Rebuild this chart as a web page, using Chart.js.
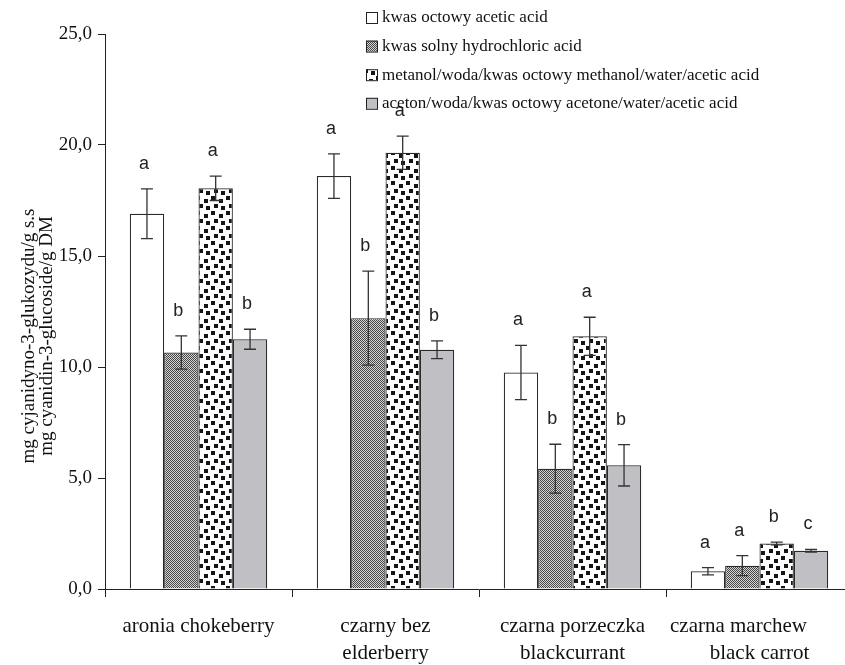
<!DOCTYPE html>
<html>
<head>
<meta charset="utf-8">
<script src="https://cdn.jsdelivr.net/npm/chart.js@4.4.0/dist/chart.umd.min.js"></script>
<style>
html, body { margin: 0; padding: 0; background: #fff; overflow: hidden; }
#chart { display: block; }
</style>
</head>
<body>
<canvas id="chart" width="860" height="665"></canvas>
<script>
// kategorie (owoce / warzywa)
const categories = [
    ['aronia chokeberry'],
    ['czarny bez', 'elderberry'],
    ['czarna porzeczka', 'blackcurrant'],
    ['czarna marchew        ', 'black carrot']
];

const seriesNames = [
    'kwas octowy acetic acid',
    'kwas solny hydrochloric acid',
    'metanol/woda/kwas octowy methanol/water/acetic acid',
    'aceton/woda/kwas octowy acetone/water/acetic acid'
];

// wartosci mg/g
const aceticAcid    = [16.9, 18.6, 9.75, 0.8];
const hydrochloric  = [10.65, 12.2, 5.42, 1.05];
const methanolMix   = [18.05, 19.65, 11.38, 2.05];
const acetoneMix    = [11.25, 10.78, 5.57, 1.72];

// odchylenia
const aceticErr     = [1.12, 1.0, 1.22, 0.16];
const hydroErr      = [0.75, 2.12, 1.1, 0.45];
const methanolErr   = [0.55, 0.75, 0.86, 0.06];
const acetoneErr    = [0.45, 0.4, 0.93, 0.06];

// grupy jednorodne
const aceticLetters   = ['a', 'a', 'a', 'a'];
const hydroLetters    = ['b', 'b', 'b', 'a'];
const methanolLetters = ['a', 'a', 'a', 'b'];
const acetoneLetters  = ['b', 'b', 'b', 'c'];

const yTicks = [0, 5, 10, 15, 20, 25];

const yTitle = ['mg cyjanidyno-3-glukozydu/g s.s', 'mg cyanidin-3-glucoside/g DM'];

// wzory wypelnienia
function checkerPattern() {
    const c = document.createElement('canvas');
    c.width = 2; c.height = 2;
    const g = c.getContext('2d');
    g.fillStyle = '#d4d4d4';
    g.fillRect(0, 0, 2, 2);
    g.fillStyle = '#474747';
    g.fillRect(0, 0, 1, 1);
    g.fillRect(1, 1, 1, 1);
    return g.createPattern(c, 'repeat');
}

function dotPattern() {
    const c = document.createElement('canvas');
    c.width = 15; c.height = 15;
    const g = c.getContext('2d');
    g.fillStyle = '#ffffff';
    g.fillRect(0, 0, 15, 15);
    g.fillStyle = '#151515';
    g.fillRect(1, 1, 4, 4);
    g.fillRect(9, 4, 4, 4);
    g.fillRect(4, 9, 4, 4);
    g.fillRect(11, 11, 4, 4);
    return g.createPattern(c, 'repeat');
}

const fills = ['#ffffff', checkerPattern(), dotPattern(), '#c0c0c4'];

const serif = '"Liberation Serif", "Times New Roman", serif';

const errorBars = {
    id: 'errorBars',
    afterDatasetsDraw(chart) {
        const ctx = chart.ctx;
        const y = chart.scales.y;
        chart.data.datasets.forEach((ds, i) => {
            const meta = chart.getDatasetMeta(i);
            meta.data.forEach((bar, j) => {
                const v = ds.data[j];
                const e = ds.errors[j];
                const top = y.getPixelForValue(v + e);
                const bot = y.getPixelForValue(v - e);
                ctx.save();
                ctx.strokeStyle = '#333';
                ctx.lineWidth = 1.3;
                ctx.beginPath();
                ctx.moveTo(bar.x, top); ctx.lineTo(bar.x, bot);
                ctx.moveTo(bar.x - 6, top); ctx.lineTo(bar.x + 6, top);
                ctx.moveTo(bar.x - 6, bot); ctx.lineTo(bar.x + 6, bot);
                ctx.stroke();

                ctx.fillStyle = '#222';
                ctx.font = '18px "Liberation Sans", Arial, sans-serif';
                ctx.textAlign = 'center';
                ctx.textBaseline = 'alphabetic';
                ctx.fillText(ds.letters[j], bar.x - 3, top - 20);
                ctx.restore();
            });
        });
    }
};

const extras = {
    id: 'extras',
    afterDraw(chart) {
        const ctx = chart.ctx;
        ctx.save();

        // legenda
        ctx.font = '17px ' + serif;
        ctx.textBaseline = 'middle';
        ctx.textAlign = 'left';
        chart.data.datasets.forEach((ds, i) => {
            const cy = 18 + i * 28.6;
            ctx.fillStyle = ds.backgroundColor;
            ctx.fillRect(366, cy - 6, 11, 11);
            ctx.strokeStyle = '#222';
            ctx.lineWidth = 1;
            ctx.strokeRect(366.5, cy - 5.5, 11, 11);
            ctx.fillStyle = '#111';
            ctx.fillText(ds.label, 382, cy);
        });

        // tytul osi y
        ctx.font = '19px ' + serif;
        ctx.textAlign = 'center';
        ctx.fillStyle = '#111';
        ctx.translate(0, 336);
        ctx.rotate(-Math.PI / 2);
        ctx.fillText(yTitle[0], 0, 29);
        ctx.fillText(yTitle[1], 0, 47);
        ctx.restore();
    }
};

const seriesValues = [aceticAcid, hydrochloric, methanolMix, acetoneMix];
const seriesErrors = [aceticErr, hydroErr, methanolErr, acetoneErr];
const seriesLetters = [aceticLetters, hydroLetters, methanolLetters, acetoneLetters];

new Chart(document.getElementById('chart'), {
    type: 'bar',
    data: {
        labels: categories,
        datasets: seriesNames.map((name, i) => ({
            label: name,
            data: seriesValues[i],
            errors: seriesErrors[i],
            letters: seriesLetters[i],
            backgroundColor: fills[i],
            borderColor: '#2a2a2a',
            borderWidth: 1.2,
            borderSkipped: 'bottom',
            categoryPercentage: 0.735,
            barPercentage: 1
        }))
    },
    options: {
        responsive: false,
        animation: false,
        devicePixelRatio: 1,
        layout: {
            padding: { top: 34, right: 7, left: 0, bottom: 0 }
        },
        plugins: {
            legend: { display: false },
            tooltip: { enabled: false }
        },
        scales: {
            x: {
                grid: {
                    offset: true,
                    drawOnChartArea: false,
                    tickLength: 8,
                    color: '#222'
                },
                border: { color: '#222', width: 1 },
                ticks: {
                    font: { family: serif, size: 21, lineHeight: 1.3 },
                    color: '#111',
                    padding: 16,
                    maxRotation: 0,
                    autoSkip: false
                },
                afterFit(scale) {
                    scale.height = 76;
                    scale.paddingLeft = 0;
                    scale.paddingRight = 0;
                }
            },
            y: {
                min: 0,
                max: 25,
                afterBuildTicks(scale) {
                    scale.ticks = yTicks.map(v => ({ value: v }));
                },
                grid: {
                    drawOnChartArea: false,
                    tickLength: 7,
                    color: '#222'
                },
                border: { color: '#222', width: 1 },
                ticks: {
                    font: { family: serif, size: 19 },
                    color: '#111',
                    padding: 6,
                    callback: v => v.toFixed(1).replace('.', ',')
                },
                afterFit(scale) { scale.width = 105; }
            }
        }
    },
    plugins: [errorBars, extras]
});
</script>
</body>
</html>
